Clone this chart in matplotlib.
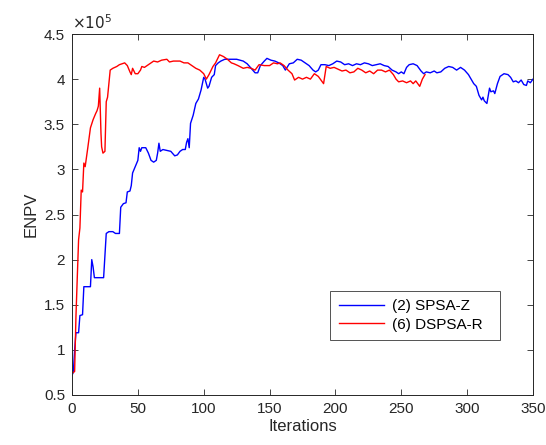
import matplotlib
matplotlib.use("Agg")
import matplotlib.pyplot as plt
from matplotlib.ticker import FuncFormatter

plt.rcParams['font.family'] = ['Liberation Sans', 'DejaVu Sans']

# SPSA-Z (blue): iteration, ENPV (x1e5)
iter_spsa = [0,1,2,3,5,6,8,9,13,14,15,16,17,24,26,28,31,33,36,37,39,41,42,44,45,46,48,50,51,52,53,56,58,60,62,64,65,66,67,69,72,75,78,80,82,84,86,87,88,89,90,92,94,96,98,100,101,103,104,106,108,109,111,113,116,120,125,130,133,136,139,141,143,146,148,151,154,157,160,162,165,168,171,174,177,180,183,185,187,189,192,195,198,201,204,207,210,213,216,219,222,225,228,231,234,237,240,243,246,248,250,252,254,256,259,262,265,267,269,272,275,277,280,283,286,289,292,295,298,301,303,305,307,309,311,312,313,315,317,318,320,321,323,325,328,331,333,335,337,339,341,343,345,346,348,350]
enpv_spsa = [0.72,0.75,1.0,1.19,1.19,1.38,1.39,1.70,1.70,1.70,2.00,1.92,1.80,1.80,2.29,2.31,2.31,2.29,2.29,2.58,2.62,2.63,2.75,2.76,2.82,2.96,3.03,3.10,3.24,3.20,3.24,3.24,3.18,3.10,3.08,3.10,3.18,3.29,3.20,3.22,3.21,3.20,3.15,3.16,3.20,3.22,3.22,3.30,3.34,3.24,3.51,3.60,3.73,3.78,3.88,4.02,4.00,3.90,3.92,4.02,4.05,4.15,4.18,4.20,4.22,4.22,4.22,4.20,4.17,4.12,4.07,4.07,4.15,4.20,4.23,4.21,4.20,4.18,4.15,4.10,4.17,4.18,4.22,4.21,4.18,4.15,4.10,4.08,4.10,4.16,4.16,4.15,4.17,4.20,4.19,4.16,4.17,4.15,4.17,4.16,4.18,4.17,4.15,4.16,4.17,4.15,4.14,4.10,4.08,4.06,4.08,4.06,4.13,4.16,4.17,4.15,4.09,4.06,4.08,4.07,4.09,4.07,4.08,4.12,4.14,4.13,4.10,4.13,4.10,4.05,4.00,3.95,3.92,3.82,3.77,3.80,3.76,3.73,3.90,3.86,3.87,3.84,3.95,4.03,4.06,4.05,4.02,3.97,3.98,3.96,3.99,3.94,3.93,3.98,3.96,4.00]

# DSPSA-R (red)
iter_dspsa = [0,2,3,4,5,6,7,8,9,10,12,14,16,18,19,20,21,22,22.5,23.5,25,26,27,29,31,34,36,40,42,44,45,46,48,50,52,53,55,58,62,65,68,72,74,77,82,85,88,91,94,97,100,102,104,107,109,112,115,118,121,123,126,130,133,136,139,142,146,150,153,156,158,161,164,167,169,172,175,178,181,184,187,190,191,193,196,199,202,205,208,211,214,217,220,223,226,229,232,235,238,241,244,246,248,251,254,257,259,261,264,266,268]
enpv_dspsa = [0.74,0.76,1.37,1.80,2.22,2.35,2.77,2.75,3.07,3.03,3.24,3.46,3.55,3.62,3.65,3.70,3.90,3.40,3.25,3.18,3.20,3.75,3.80,4.10,4.12,4.14,4.16,4.18,4.15,4.08,4.05,4.12,4.06,4.06,4.10,4.14,4.13,4.16,4.20,4.19,4.21,4.22,4.19,4.20,4.20,4.18,4.18,4.15,4.12,4.10,4.06,4.00,4.05,4.14,4.18,4.27,4.25,4.22,4.18,4.17,4.15,4.12,4.13,4.12,4.10,4.16,4.15,4.15,4.18,4.17,4.18,4.15,4.10,4.06,3.99,4.02,4.00,4.02,4.00,4.06,4.03,3.97,3.95,4.14,4.12,4.13,4.11,4.09,4.10,4.07,4.08,4.12,4.10,4.07,4.09,4.06,4.10,4.10,4.08,4.10,4.05,4.00,3.97,3.98,3.96,3.98,3.95,3.98,3.92,4.00,4.05]

xticks = [0,50,100,150,200,250,300,350]
yticks = [0.5,1,1.5,2,2.5,3,3.5,4,4.5]

fig = plt.figure(figsize=(5.46,4.45), dpi=100)
ax = fig.add_axes([72/546, 50/445, 461/546, 361/445])
ax.plot(iter_spsa, enpv_spsa, color='#0000ff', lw=1.0, label='(2) SPSA-Z')
ax.plot(iter_dspsa, enpv_dspsa, color='#ff0000', lw=1.0, label='(6) DSPSA-R')
ax.set_xlim(0,350)
ax.set_ylim(0.5,4.5)
ax.set_xticks(xticks)
ax.set_yticks(yticks)
ax.yaxis.set_major_formatter(FuncFormatter(lambda v,p: ('%g' % v)))
ax.tick_params(direction='in', length=4, width=0.6, colors='#262626', labelsize=11,
               top=True, right=True, pad=5)
for s in ax.spines.values():
    s.set_color('#262626'); s.set_linewidth(0.7)
ax.set_xlabel('Iterations', fontsize=12, color='#262626', labelpad=2)
ax.set_ylabel('ENPV', fontsize=12, color='#262626', labelpad=4)
ax.text(0.0, 1.005, r'$\times10^5$', transform=ax.transAxes, fontsize=11,
        color='#262626', ha='left', va='bottom')
leg = ax.legend(loc='lower left', bbox_to_anchor=(0.56, 0.152, 0.368, 0.142),
                mode='expand', fontsize=11, frameon=True, fancybox=False,
                handlelength=3.0, borderpad=0.55, labelspacing=0.3, handletextpad=0.5,
                borderaxespad=0)
leg.get_frame().set_edgecolor('#262626')
leg.get_frame().set_linewidth(0.7)
fig.savefig('out.png', dpi=100)
